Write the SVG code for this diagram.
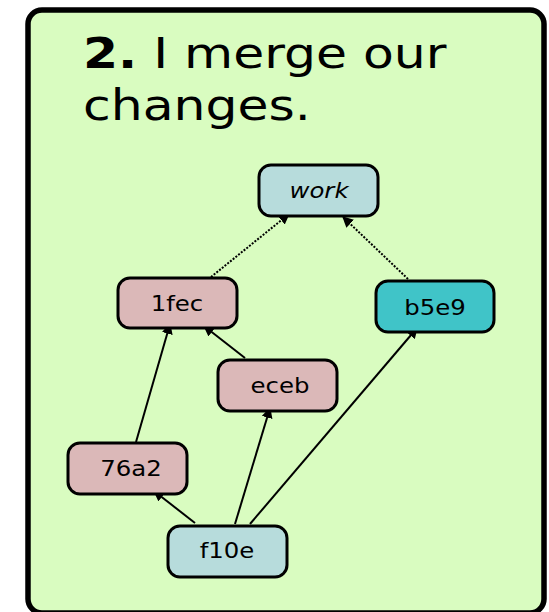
<svg xmlns="http://www.w3.org/2000/svg" width="549" height="612" viewBox="0 0 549 612">
  <style>
    .panel { fill: #d9fcc0; stroke: #000; stroke-width: 5.5; }
    .node rect { stroke: #000; stroke-width: 3; }
    .node text { font-family: "DejaVu Sans", "Liberation Sans", sans-serif; font-size: 22px; text-anchor: middle; fill: #000; }
    .commit rect { fill: #dbb8b8; }
    .tip rect { fill: #b7dcdc; }
    .remote rect { fill: #40c4c8; }
    .title { font-family: "DejaVu Sans", "Liberation Sans", sans-serif; font-size: 42px; fill: #000; }
    .edge { stroke: #000; stroke-width: 2; fill: none; marker-end: url(#arrow); }
    .ref { stroke-dasharray: 2 1.5; }
  </style>
  <defs>
    <marker id="arrow" viewBox="0 0 10 10" refX="9" refY="5" markerWidth="5.5" markerHeight="5.5" orient="auto" markerUnits="strokeWidth">
      <path d="M0,0 L10,5 L0,10 z" fill="#000"/>
    </marker>
  </defs>

  <rect class="panel" x="28" y="10" width="516" height="603" rx="14"/>

  <text class="title" transform="translate(83,68) scale(1.2,1)"><tspan font-weight="bold">2.</tspan> I merge our</text>
  <text class="title" transform="translate(83,120) scale(1.2,1)">changes.</text>

  <g id="edges">
    <line class="edge ref" x1="211" y1="277" x2="289" y2="214"/>
    <line class="edge ref" x1="408" y1="279" x2="343" y2="217"/>
    <line class="edge" x1="136" y1="442" x2="170" y2="324"/>
    <line class="edge" x1="245" y1="358" x2="204" y2="326"/>
    <line class="edge" x1="195" y1="523" x2="154" y2="491"/>
    <line class="edge" x1="235" y1="524" x2="270" y2="408"/>
    <line class="edge" x1="250" y1="524" x2="417" y2="328"/>
  </g>

  <g id="work" class="node tip">
    <rect x="259" y="165" width="119" height="51" rx="12"/>
    <text transform="translate(319,198) scale(1.11,1)" font-style="italic">work</text>
  </g>
  <g id="n1fec" class="node commit">
    <rect x="118" y="278" width="119" height="50" rx="12"/>
    <text transform="translate(177,311) scale(1.11,1)">1fec</text>
  </g>
  <g id="b5e9" class="node remote">
    <rect x="376" y="281" width="118" height="51" rx="12"/>
    <text transform="translate(435,315) scale(1.11,1)">b5e9</text>
  </g>
  <g id="eceb" class="node commit">
    <rect x="218" y="360" width="119" height="51" rx="12"/>
    <text transform="translate(280,393) scale(1.11,1)">eceb</text>
  </g>
  <g id="n76a2" class="node commit">
    <rect x="68" y="443" width="119" height="51" rx="12"/>
    <text transform="translate(131,476) scale(1.11,1)">76a2</text>
  </g>
  <g id="f10e" class="node tip">
    <rect x="168" y="526" width="119" height="51" rx="12"/>
    <text transform="translate(227,558) scale(1.11,1)">f10e</text>
  </g>
</svg>
